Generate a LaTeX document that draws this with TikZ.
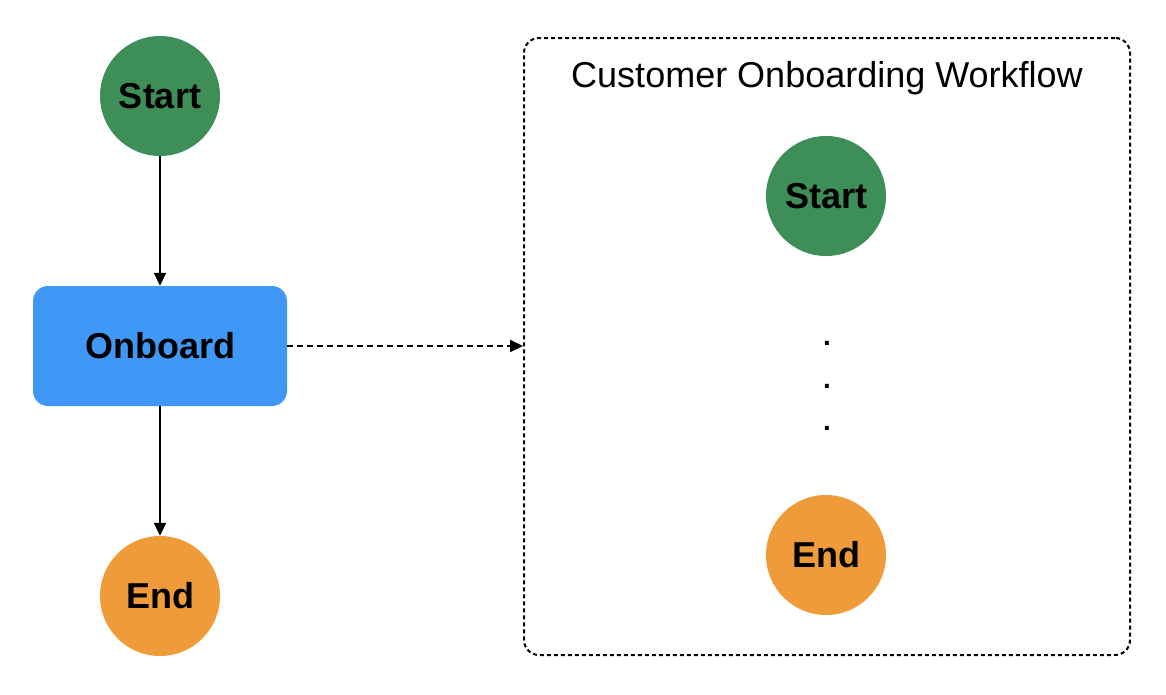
\documentclass[tikz,border=0pt]{standalone}
\usepackage{fontspec}
\setmainfont{Liberation Sans}
\usetikzlibrary{arrows.meta}
\definecolor{stgreen}{HTML}{3E8E57}
\definecolor{stblue}{HTML}{3F97F6}
\definecolor{storange}{HTML}{F09B3A}
\tikzset{
  startnode/.style={circle, fill=stgreen, minimum size=120pt, inner sep=0pt, font=\fontsize{36}{40}\selectfont\bfseries},
  endnode/.style={circle, fill=storange, minimum size=120pt, inner sep=0pt, font=\fontsize{36}{40}\selectfont\bfseries},
  taskbox/.style={rectangle, rounded corners=15pt, fill=stblue, minimum width=254pt, minimum height=120pt, inner sep=0pt, font=\fontsize{36}{40}\selectfont\bfseries},
  conn/.style={line width=2pt, -{Triangle[length=13pt,width=12pt]}},
  dconn/.style={line width=2pt, dash pattern=on 6pt off 4pt, -{Triangle[length=13pt,width=12pt]}},
  groupbox/.style={draw, line width=2pt, dash pattern=on 4pt off 3pt, rounded corners=15pt, minimum width=606pt, minimum height=617pt, inner sep=0pt},
  dotnode/.style={inner sep=0pt, font=\fontsize{28}{30}\selectfont\bfseries}
}
\begin{document}
\begin{tikzpicture}[x=1pt, y=-1pt]
\useasboundingbox (0,0) rectangle (1166,694);
\node[startnode] (s1) at (160,96) {\raisebox{-2pt}{Start}};
\node[taskbox] (ob) at (160,346) {Onboard};
\node[endnode] (e1) at (160,596) {End};
\node[groupbox] (grp) at (827,346.5) {};
\node[inner sep=0pt, font=\fontsize{36}{40}\selectfont, anchor=base] (title) at (827,87) {Customer Onboarding Workflow};
\node[startnode] (s2) at (826,196) {\raisebox{-2pt}{Start}};
\node[dotnode] (d1) at (827,343) {.};
\node[dotnode] (d2) at (827,386) {.};
\node[dotnode] (d3) at (827,428) {.};
\node[endnode] (e2) at (826,555) {End};
\draw[conn] (s1) -- (ob);
\draw[conn] (ob) -- (e1);
\draw[dconn] (ob.east) -- (grp.west |- ob.east);
\end{tikzpicture}
\end{document}
